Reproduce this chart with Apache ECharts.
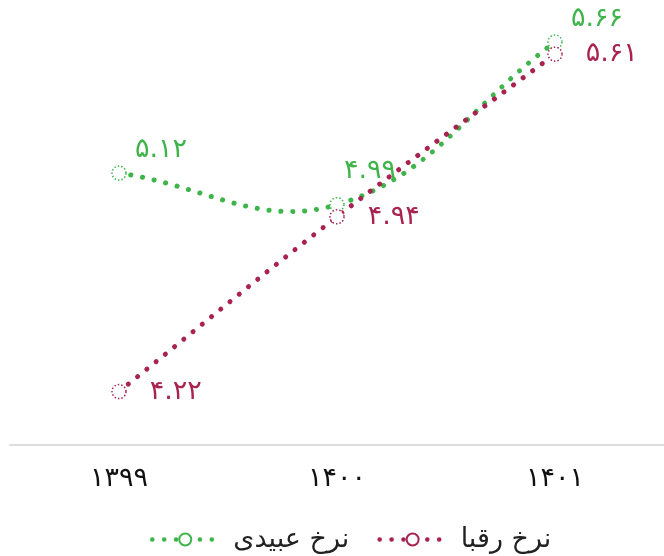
<!doctype html>
<html>
<head>
<meta charset="UTF-8">
<title>نرخ عبیدی و رقبا</title>
<script src="https://cdn.jsdelivr.net/npm/echarts@6/dist/echarts.min.js"></script>
<style>
  html, body { margin: 0; padding: 0; background: #fff; }
  #main { width: 664px; height: 556px; }
</style>
</head>
<body>
<div id="main"></div>
<script>
// data
var years = ['۱۳۹۹', '۱۴۰۰', '۱۴۰۱'];
var obeidi = [5.12, 4.99, 5.66];
var rivals = [4.22, 4.94, 5.61];
var seriesNames = ['نرخ عبیدی', 'نرخ رقبا'];

var green = '#3db54a';
var red = '#a8234f';
var font = 'DejaVu Sans';
var dots = [0.1, 11.8];

function faNum(v) {
    var d = '۰۱۲۳۴۵۶۷۸۹';
    return v.toFixed(2).replace(/\d/g, function (c) { return d[c]; });
}

// spline through the points (tension 0.4), drawn as a dotted polyline
function curveSeries(values, color) {
    return {
        type: 'custom',
        z: 1,
        silent: true,
        data: values.map(function (v, i) { return [i, v]; }),
        encode: { x: 0, y: 1 },
        renderItem: function (params, api) {
            if (params.dataIndex !== 0) return null;
            var p = values.map(function (v, i) { return api.coord([i, v]); });
            var t = 0.4, n = p.length, cps = [];
            for (var i = 0; i < n; i++) {
                var prev = p[i - 1] || p[i], next = p[i + 1] || p[i], cur = p[i];
                var d01 = Math.hypot(cur[0] - prev[0], cur[1] - prev[1]);
                var d12 = Math.hypot(next[0] - cur[0], next[1] - cur[1]);
                var s01 = d01 / (d01 + d12) || 0, s12 = d12 / (d01 + d12) || 0;
                var vx = next[0] - prev[0], vy = next[1] - prev[1];
                cps.push({
                    a: [cur[0] - t * s01 * vx, cur[1] - t * s01 * vy],
                    b: [cur[0] + t * s12 * vx, cur[1] + t * s12 * vy]
                });
            }
            var pts = [p[0]];
            for (var k = 0; k < n - 1; k++) {
                var P0 = p[k], C1 = cps[k].b, C2 = cps[k + 1].a, P3 = p[k + 1];
                for (var j = 1; j <= 60; j++) {
                    var u = j / 60, w = 1 - u;
                    pts.push([
                        w * w * w * P0[0] + 3 * w * w * u * C1[0] + 3 * w * u * u * C2[0] + u * u * u * P3[0],
                        w * w * w * P0[1] + 3 * w * w * u * C1[1] + 3 * w * u * u * C2[1] + u * u * u * P3[1]
                    ]);
                }
            }
            return {
                type: 'polyline',
                shape: { points: pts },
                style: { stroke: color, fill: null, lineWidth: 5, lineDash: dots, lineCap: 'round' }
            };
        }
    };
}

function pointSeries(name, data, color, labelOpt) {
    return {
        name: name,
        type: 'line',
        z: 3,
        data: data,
        symbol: 'circle',
        symbolSize: 14,
        itemStyle: { color: '#fff', borderColor: color, borderWidth: 1.5, borderType: [1.5, 2] },
        lineStyle: { color: color, width: 5, type: dots, cap: 'round', opacity: 0 },
        label: Object.assign({
            show: true,
            color: color,
            fontSize: 27,
            fontFamily: font,
            formatter: function (p) { return faNum(p.value); }
        }, labelOpt)
    };
}

var myChart = echarts.init(document.getElementById('main'));
var option = {
    animation: false,
    grid: { left: 10, right: -6, top: 8, bottom: 111 },
    legend: {
        bottom: -2,
        left: 145,
        itemWidth: 66,
        itemHeight: 15,
        itemGap: 28,
        lineStyle: { opacity: 1, width: 4.5 },
        textStyle: { fontSize: 27, fontFamily: font, color: '#222', padding: [0, 0, 0, 10] },
        data: seriesNames
    },
    xAxis: {
        type: 'category',
        data: years,
        axisLine: { lineStyle: { color: '#dcdcdc', width: 2 } },
        axisTick: { show: false },
        axisLabel: { color: '#111', fontSize: 27, fontFamily: font, margin: 20 }
    },
    yAxis: {
        type: 'value',
        min: 4,
        max: 5.8,
        show: false,
        splitLine: { show: false }
    },
    labelLayout: function (params) {
        // green labels sit up and to the right of their points
        if (params.seriesIndex === 0) {
            return params.dataIndex === 1 ? { dx: 33, dy: -10 } : { dx: 42, dy: 0 };
        }
    },
    series: [
        pointSeries(seriesNames[0], obeidi, green, { position: 'top', distance: 2 }),
        pointSeries(seriesNames[1], rivals, red, { position: 'right', distance: 23 }),
        curveSeries(obeidi, green),
        curveSeries(rivals, red)
    ]
};
myChart.setOption(option);
</script>
</body>
</html>
